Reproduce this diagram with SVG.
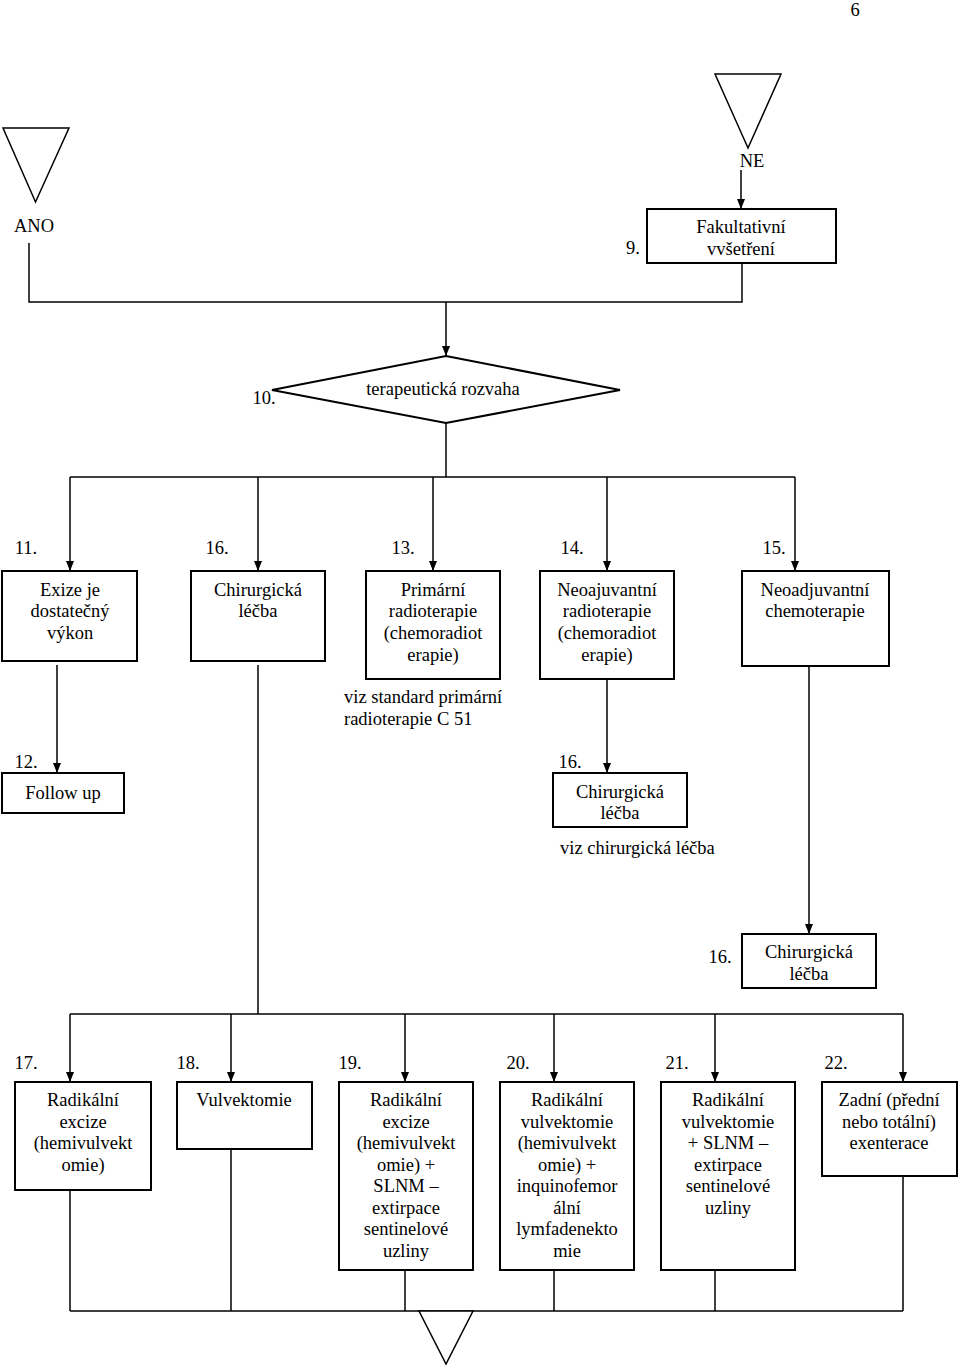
<svg xmlns="http://www.w3.org/2000/svg" width="960" height="1365" viewBox="0 0 960 1365" font-family="'Liberation Serif', 'Times New Roman', serif">
<defs>
<style>
text{font-family:'Liberation Serif','Times New Roman',serif;font-size:18.5px;fill:#000}
.c{text-anchor:middle}
.box{fill:#fff;stroke:#000;stroke-width:2}
.ln{fill:none;stroke:#000;stroke-width:1.5}
.tri{fill:#fff;stroke:#000;stroke-width:1.5}
</style>
<marker id="ah" viewBox="0 0 10 10" refX="10" refY="5" markerWidth="10" markerHeight="10" markerUnits="userSpaceOnUse" orient="auto">
<path d="M0,1 L10,5 L0,9 Z" fill="#000"/>
</marker>
</defs>
<rect width="960" height="1365" fill="#fff"/>
<text x="855" y="16" class="c">6</text>

<g id="connectors">
<path class="ln" d="M741,170 V209" marker-end="url(#ah)"/>
<path class="ln" d="M29,243 V302 H742 V263"/>
<path class="ln" d="M446,302 V356" marker-end="url(#ah)"/>
<path class="ln" d="M446,423 V477"/>
<path class="ln" d="M70,477 H795"/>
<path class="ln" d="M70,477 V571" marker-end="url(#ah)"/>
<path class="ln" d="M258,477 V571" marker-end="url(#ah)"/>
<path class="ln" d="M433,477 V571" marker-end="url(#ah)"/>
<path class="ln" d="M607,477 V571" marker-end="url(#ah)"/>
<path class="ln" d="M795,477 V571" marker-end="url(#ah)"/>
<path class="ln" d="M57,665 V773" marker-end="url(#ah)"/>
<path class="ln" d="M607,679 V773" marker-end="url(#ah)"/>
<path class="ln" d="M809,666 V934" marker-end="url(#ah)"/>
<path class="ln" d="M258,665 V1014"/>
<path class="ln" d="M70,1014 H903"/>
<path class="ln" d="M70,1014 V1082" marker-end="url(#ah)"/>
<path class="ln" d="M231,1014 V1082" marker-end="url(#ah)"/>
<path class="ln" d="M405,1014 V1082" marker-end="url(#ah)"/>
<path class="ln" d="M554,1014 V1082" marker-end="url(#ah)"/>
<path class="ln" d="M715,1014 V1082" marker-end="url(#ah)"/>
<path class="ln" d="M903,1014 V1082" marker-end="url(#ah)"/>
<path class="ln" d="M70,1190 V1311 M231,1149 V1311 M405,1270 V1311 M554,1270 V1311 M715,1270 V1311 M903,1176 V1311 M70,1311 H903"/>
</g>

<g id="tri-ano">
<polygon class="tri" points="3,128 69,128 35.5,202"/>
<text x="34" y="232" class="c">ANO</text>
</g>
<g id="tri-ne">
<polygon class="tri" points="715,74 781,74 748,148"/>
<text x="752" y="167" class="c">NE</text>
</g>
<g id="n9">
<rect class="box" x="647" y="209" width="189" height="54"/>
<text x="741" y="233" class="c">Fakultativní</text>
<text x="741" y="255" class="c">vvšetření</text>
<text x="633" y="254" class="c">9.</text>
</g>
<g id="n10">
<polygon class="box" points="446,356 620,390 446,423 272,390"/>
<text x="443" y="395" class="c">terapeutická rozvaha</text>
<text x="264" y="404" class="c">10.</text>
</g>

<g id="n11">
<text x="26" y="554" class="c">11.</text>
<rect class="box" x="2" y="571" width="135" height="90"/>
<text x="70" y="596" class="c">Exize je</text>
<text x="70" y="617" class="c">dostatečný</text>
<text x="70" y="639" class="c">výkon</text>
</g>
<g id="n16a">
<text x="217" y="554" class="c">16.</text>
<rect class="box" x="191" y="571" width="134" height="90"/>
<text x="258" y="596" class="c">Chirurgická</text>
<text x="258" y="617" class="c">léčba</text>
</g>
<g id="n13">
<text x="403" y="554" class="c">13.</text>
<rect class="box" x="366" y="571" width="134" height="108"/>
<text x="433" y="596" class="c">Primární</text>
<text x="433" y="617" class="c">radioterapie</text>
<text x="433" y="639" class="c">(chemoradiot</text>
<text x="433" y="661" class="c">erapie)</text>
<text x="344" y="703">viz standard primární</text>
<text x="344" y="725">radioterapie C 51</text>
</g>
<g id="n14">
<text x="572" y="554" class="c">14.</text>
<rect class="box" x="540" y="571" width="134" height="108"/>
<text x="607" y="596" class="c">Neoajuvantní</text>
<text x="607" y="617" class="c">radioterapie</text>
<text x="607" y="639" class="c">(chemoradiot</text>
<text x="607" y="661" class="c">erapie)</text>
</g>
<g id="n15">
<text x="774" y="554" class="c">15.</text>
<rect class="box" x="742" y="571" width="147" height="95"/>
<text x="815" y="596" class="c">Neoadjuvantní</text>
<text x="815" y="617" class="c">chemoterapie</text>
</g>

<g id="n12">
<text x="26" y="768" class="c">12.</text>
<rect class="box" x="2" y="773" width="122" height="40"/>
<text x="63" y="799" class="c">Follow up</text>
</g>
<g id="n16b">
<text x="570" y="768" class="c">16.</text>
<rect class="box" x="553" y="773" width="134" height="54"/>
<text x="620" y="798" class="c">Chirurgická</text>
<text x="620" y="819" class="c">léčba</text>
<text x="560" y="854">viz chirurgická léčba</text>
</g>
<g id="n16c">
<text x="720" y="963" class="c">16.</text>
<rect class="box" x="742" y="934" width="134" height="54"/>
<text x="809" y="958" class="c">Chirurgická</text>
<text x="809" y="980" class="c">léčba</text>
</g>

<g id="n17">
<text x="26" y="1069" class="c">17.</text>
<rect class="box" x="15" y="1082" width="136" height="108"/>
<text x="83" y="1106" class="c">Radikální</text>
<text x="83" y="1128" class="c">excize</text>
<text x="83" y="1149" class="c">(hemivulvekt</text>
<text x="83" y="1171" class="c">omie)</text>
</g>
<g id="n18">
<text x="188" y="1069" class="c">18.</text>
<rect class="box" x="177" y="1082" width="135" height="67"/>
<text x="244" y="1106" class="c">Vulvektomie</text>
</g>
<g id="n19">
<text x="350" y="1069" class="c">19.</text>
<rect class="box" x="339" y="1082" width="134" height="188"/>
<text x="406" y="1106" class="c">Radikální</text>
<text x="406" y="1128" class="c">excize</text>
<text x="406" y="1149" class="c">(hemivulvekt</text>
<text x="406" y="1171" class="c">omie) +</text>
<text x="406" y="1192" class="c">SLNM –</text>
<text x="406" y="1214" class="c">extirpace</text>
<text x="406" y="1235" class="c">sentinelové</text>
<text x="406" y="1257" class="c">uzliny</text>
</g>
<g id="n20">
<text x="518" y="1069" class="c">20.</text>
<rect class="box" x="500" y="1082" width="134" height="188"/>
<text x="567" y="1106" class="c">Radikální</text>
<text x="567" y="1128" class="c">vulvektomie</text>
<text x="567" y="1149" class="c">(hemivulvekt</text>
<text x="567" y="1171" class="c">omie) +</text>
<text x="567" y="1192" class="c">inquinofemor</text>
<text x="567" y="1214" class="c">ální</text>
<text x="567" y="1235" class="c">lymfadenekto</text>
<text x="567" y="1257" class="c">mie</text>
</g>
<g id="n21">
<text x="677" y="1069" class="c">21.</text>
<rect class="box" x="661" y="1082" width="134" height="188"/>
<text x="728" y="1106" class="c">Radikální</text>
<text x="728" y="1128" class="c">vulvektomie</text>
<text x="728" y="1149" class="c">+ SLNM –</text>
<text x="728" y="1171" class="c">extirpace</text>
<text x="728" y="1192" class="c">sentinelové</text>
<text x="728" y="1214" class="c">uzliny</text>
</g>
<g id="n22">
<text x="836" y="1069" class="c">22.</text>
<rect class="box" x="822" y="1082" width="135" height="94"/>
<text x="889" y="1106" class="c">Zadní (přední</text>
<text x="889" y="1128" class="c">nebo totální)</text>
<text x="889" y="1149" class="c">exenterace</text>
</g>
<g id="tri-bottom">
<polygon class="tri" points="419,1311 473,1311 446,1364"/>
</g>
</svg>
